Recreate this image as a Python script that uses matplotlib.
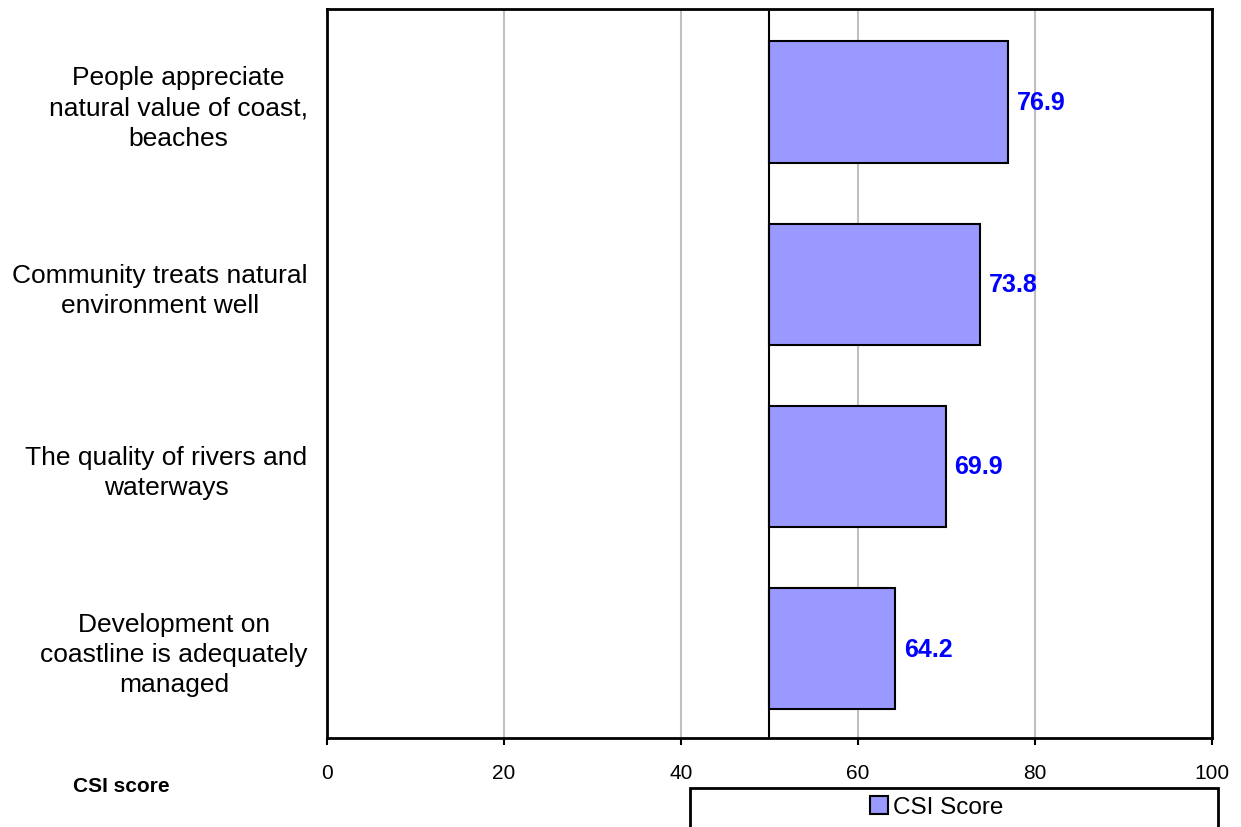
import matplotlib.pyplot as plt
from matplotlib.patches import Rectangle

plt.rcParams['font.family'] = ['Liberation Sans', 'DejaVu Sans']

categories = [
    "People appreciate\nnatural value of coast,\nbeaches",
    "Community treats natural\nenvironment well",
    "The quality of rivers and\nwaterways",
    "Development on\ncoastline is adequately\nmanaged",
]
scores = [76.9, 73.8, 69.9, 64.2]
baseline = 50
x_ticks = [0, 20, 40, 60, 80, 100]

W, H = 1241, 828
fig = plt.figure(figsize=(W / 100, H / 100), dpi=100)
ax = fig.add_axes([327 / W, 1 - 739 / H, (1212 - 327) / W, (739 - 10) / H])

ypos = list(range(len(categories)))
bars = ax.barh(ypos, [s - baseline for s in scores], left=baseline, height=0.665,
               color='#9999FF', edgecolor='black', linewidth=1.5, label='CSI Score', zorder=3)

for y, s in zip(ypos, scores):
    ax.text(s + 1.0, y, f"{s:.1f}", va='center', ha='left', color='#0000FF',
            fontsize=18, fontweight='bold', zorder=4)

ax.axvline(baseline, color='black', linewidth=1.5, zorder=4)

ax.set_xlim(0, 100)
ax.set_ylim(len(categories) - 0.51, -0.51)
ax.set_xticks(x_ticks)
ax.set_xticklabels([str(t) for t in x_ticks], fontsize=15)
ax.xaxis.grid(True, color='#C0C0C0', linewidth=1.5, zorder=0)
ax.set_axisbelow(True)

ax.set_yticks(ypos)
ax.set_yticklabels(categories, fontsize=19, ha='right', multialignment='center', linespacing=1.32)
ax.tick_params(axis='y', length=0, pad=14)
ax.tick_params(axis='x', direction='out', length=5, width=1.5, pad=13)

for sp in ax.spines.values():
    sp.set_linewidth(2)
    sp.set_color('black')

fig.text(121 / W, 1 - 787 / H, "CSI score", ha='center', va='center', fontsize=15, fontweight='bold')

# legend box running off the bottom edge of the figure
fig.patches.append(Rectangle((690 / W, -0.05), (1218 - 690) / W, 0.05 + (828 - 789) / H,
                             transform=fig.transFigure, fill=False, edgecolor='black',
                             linewidth=2, zorder=5))
fig.legend(handles=[bars], labels=['CSI Score'], loc='center', bbox_to_anchor=(937 / W, 1 - 808 / H),
           frameon=False, fontsize=17.5, handlelength=0.75, handleheight=0.75, handletextpad=0.2)

fig.savefig('out.png', dpi=100)
